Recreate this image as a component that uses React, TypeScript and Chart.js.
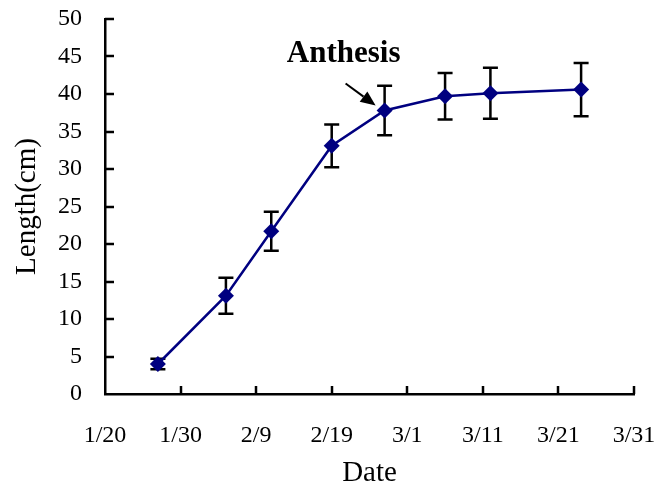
import { useEffect, useRef } from "react";
import { Chart, registerables } from "chart.js";

Chart.register(...registerables);

// ---- data ----
const dates = ["1/27", "2/5", "2/11", "2/19", "2/26", "3/6", "3/12", "3/24"];
const lengths = [4.0, 13.1, 21.7, 33.1, 37.8, 39.7, 40.1, 40.6];
const errors = [0.7, 2.4, 2.6, 2.85, 3.3, 3.1, 3.4, 3.55];
const tickLabels = ["1/20", "1/30", "2/9", "2/19", "3/1", "3/11", "3/21", "3/31"];
const startDate = "1/20";
const annotationText = "Anthesis";
const annotationIndex = 4;

const SERIF = "'Liberation Serif', 'Times New Roman', serif";

function dayOffset(md: string): number {
  const [m, d] = md.split("/").map(Number);
  const [m0, d0] = startDate.split("/").map(Number);
  return Math.round((Date.UTC(2001, m - 1, d) - Date.UTC(2001, m0 - 1, d0)) / 86400000);
}

const points = dates.map((d, i) => ({ x: dayOffset(d), y: lengths[i] }));

const errorBarPlugin = {
  id: "errorBars",
  beforeDatasetsDraw(chart: any) {
    const ctx = chart.ctx;
    const xs = chart.scales.x;
    const ys = chart.scales.y;
    ctx.save();
    ctx.strokeStyle = "#000";
    ctx.lineWidth = 2.5;
    points.forEach((p, i) => {
      const px = xs.getPixelForValue(p.x);
      const top = ys.getPixelForValue(p.y + errors[i]);
      const bot = ys.getPixelForValue(p.y - errors[i]);
      ctx.beginPath();
      ctx.moveTo(px, top);
      ctx.lineTo(px, bot);
      ctx.moveTo(px - 7.5, top);
      ctx.lineTo(px + 7.5, top);
      ctx.moveTo(px - 7.5, bot);
      ctx.lineTo(px + 7.5, bot);
      ctx.stroke();
    });
    ctx.restore();
  },
};

const innerTicksPlugin = {
  id: "innerTicks",
  afterDraw(chart: any) {
    const ctx = chart.ctx;
    const xs = chart.scales.x;
    const ys = chart.scales.y;
    const area = chart.chartArea;
    ctx.save();
    ctx.strokeStyle = "#000";
    ctx.lineWidth = 2.5;
    ctx.beginPath();
    ys.ticks.forEach((t: any) => {
      if (t.value === ys.min) return;
      const y = Math.round(ys.getPixelForValue(t.value));
      ctx.moveTo(area.left, y);
      ctx.lineTo(area.left + 9, y);
    });
    xs.ticks.forEach((t: any) => {
      if (t.value === xs.min) return;
      const x = Math.round(xs.getPixelForValue(t.value));
      ctx.moveTo(x, area.bottom);
      ctx.lineTo(x, area.bottom - 8);
    });
    ctx.stroke();
    ctx.restore();
  },
};

const annotationPlugin = {
  id: "anthesisNote",
  afterDraw(chart: any) {
    const ctx = chart.ctx;
    const p = points[annotationIndex];
    const px = chart.scales.x.getPixelForValue(p.x);
    const py = chart.scales.y.getPixelForValue(p.y);
    ctx.save();
    ctx.fillStyle = "#000";
    ctx.font = `bold 31px ${SERIF}`;
    ctx.textAlign = "center";
    ctx.textBaseline = "alphabetic";
    ctx.fillText(annotationText, px - 41, py - 49);
    // arrow
    const sx = px - 39, sy = py - 27;
    const tx = px - 9, ty = py - 5;
    const ang = Math.atan2(ty - sy, tx - sx);
    const headLen = 15, headW = 6.5;
    const bx = tx - headLen * Math.cos(ang);
    const by = ty - headLen * Math.sin(ang);
    ctx.strokeStyle = "#000";
    ctx.lineWidth = 2;
    ctx.beginPath();
    ctx.moveTo(sx, sy);
    ctx.lineTo(bx, by);
    ctx.stroke();
    ctx.beginPath();
    ctx.moveTo(tx, ty);
    ctx.lineTo(bx + headW * Math.sin(ang), by - headW * Math.cos(ang));
    ctx.lineTo(bx - headW * Math.sin(ang), by + headW * Math.cos(ang));
    ctx.closePath();
    ctx.fill();
    ctx.restore();
  },
};

export default function App() {
  const canvasRef = useRef<HTMLCanvasElement | null>(null);

  useEffect(() => {
    if (!canvasRef.current) return;
    const chart = new Chart(canvasRef.current, {
      type: "scatter",
      data: {
        datasets: [
          {
            data: points,
            showLine: true,
            borderColor: "#000080",
            backgroundColor: "#000080",
            borderWidth: 2.5,
            pointStyle: "rectRot",
            pointRadius: 8,
            pointHoverRadius: 8,
            pointBorderWidth: 0,
            tension: 0,
          },
        ],
      },
      options: {
        responsive: false,
        animation: false,
        layout: { padding: { top: 19, right: 20, left: 0, bottom: 0 } },
        plugins: {
          legend: { display: false },
          tooltip: { enabled: false },
        },
        scales: {
          x: {
            type: "linear",
            min: 0,
            max: 70,
            afterFit: (s: any) => {
              s.height = 92;
              s.paddingLeft = 0;
              s.paddingRight = 0;
            },
            afterBuildTicks: (s: any) => {
              s.ticks = tickLabels.map((_, i) => ({ value: i * 10 }));
            },
            ticks: {
              callback: (_v: any, i: number) => tickLabels[i],
              font: { family: SERIF, size: 24 },
              color: "#000",
              padding: 27,
              maxRotation: 0,
            },
            grid: { display: false, drawTicks: false },
            border: { display: true, color: "#000", width: 2.5 },
            title: {
              display: true,
              text: "Date",
              font: { family: SERIF, size: 29, lineHeight: 0.9 },
              color: "#000",
              padding: 0,
            },
          },
          y: {
            min: 0,
            max: 50,
            afterFit: (s: any) => {
              s.width = 105;
              s.paddingTop = 0;
              s.paddingBottom = 0;
            },
            ticks: {
              stepSize: 5,
              font: { family: SERIF, size: 24 },
              color: "#000",
              padding: 23,
            },
            grid: { display: false, drawTicks: false },
            border: { display: true, color: "#000", width: 2.5 },
            title: {
              display: true,
              text: "Length(cm)",
              font: { family: SERIF, size: 29, lineHeight: 1 },
              color: "#000",
              padding: 13,
            },
          },
        },
      },
      plugins: [errorBarPlugin, innerTicksPlugin, annotationPlugin],
    } as any);
    return () => chart.destroy();
  }, []);

  return (
    <div style={{ position: "fixed", left: 0, top: 0, width: 654, height: 486, background: "#fff" }}>
      <canvas ref={canvasRef} width={654} height={486} style={{ display: "block" }} />
    </div>
  );
}
